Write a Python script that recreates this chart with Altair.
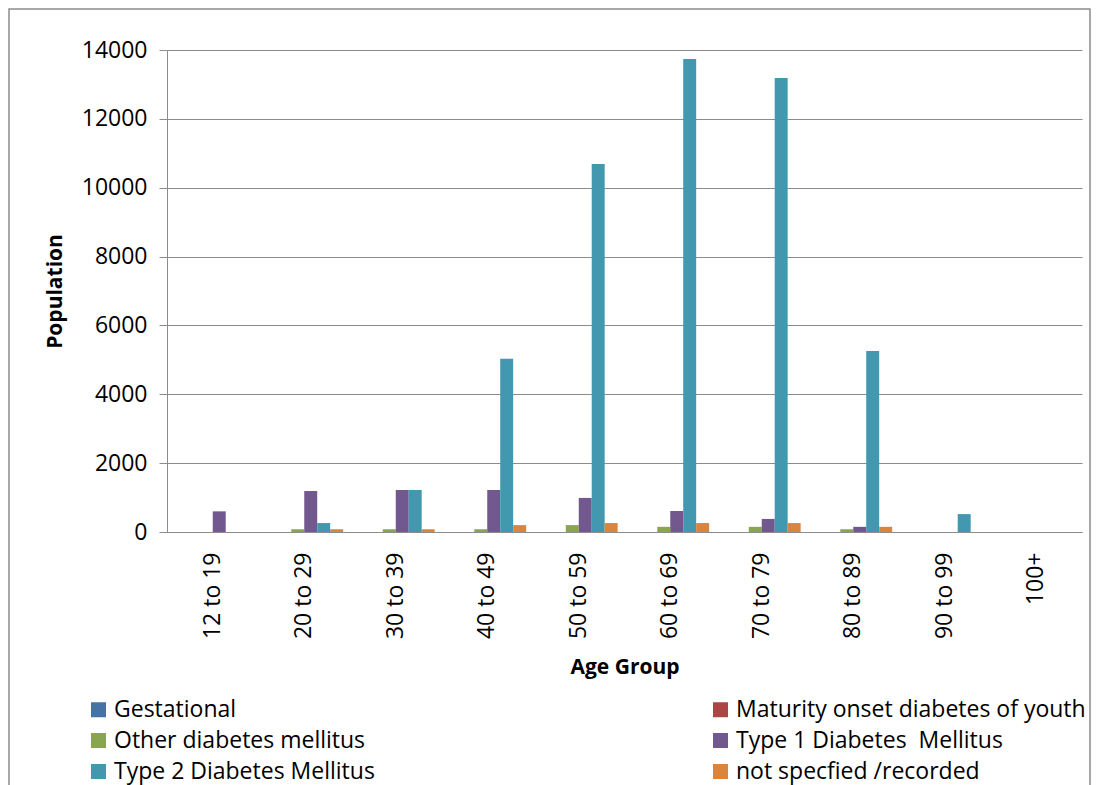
import altair as alt
import pandas as pd

age_groups = ["12 to 19", "20 to 29", "30 to 39", "40 to 49", "50 to 59",
              "60 to 69", "70 to 79", "80 to 89", "90 to 99", "100+"]
series = ["Gestational", "Maturity onset diabetes of youth", "Other diabetes mellitus",
          "Type 1 Diabetes\u00a0 Mellitus", "Type 2 Diabetes Mellitus", "not specfied /recorded"]
colors = ["#4572A7", "#AA4643", "#89A54E", "#71588F", "#4198AF", "#DB843D"]

gestational = [0, 0, 0, 0, 0, 0, 0, 0, 0, 0]
mody = [0, 0, 0, 0, 0, 0, 0, 0, 0, 0]
other = [0, 80, 80, 80, 200, 150, 150, 80, 0, 0]
type1 = [600, 1190, 1220, 1220, 990, 610, 380, 150, 0, 0]
type2 = [0, 260, 1220, 5030, 10690, 13740, 13190, 5260, 520, 0]
not_spec = [0, 80, 80, 200, 260, 260, 260, 150, 0, 0]

rows = []
for s, vals in zip(series, [gestational, mody, other, type1, type2, not_spec]):
    for g, v in zip(age_groups, vals):
        rows.append({"Age Group": g, "Series": s, "Population": v})
df = pd.DataFrame(rows)

FONT = "Open Sans"

bars = alt.Chart(df).mark_bar().encode(
    x=alt.X("Age Group:N", sort=age_groups,
            scale=alt.Scale(paddingInner=0.15, paddingOuter=0.075),
            axis=alt.Axis(title="Age Group", labelAngle=-90, ticks=False,
                          domainColor="#8c8c8c", labelPadding=20,
                          titlePadding=18)),
    xOffset=alt.XOffset("Series:N", sort=series,
                        scale=alt.Scale(domain=series, paddingInner=0, paddingOuter=0)),
    y=alt.Y("Population:Q",
            scale=alt.Scale(domain=[0, 14000], nice=False),
            axis=alt.Axis(title="Population", values=list(range(0, 14001, 2000)),
                          format="d",
                          tickSize=8, tickColor="#8c8c8c", domainColor="#8c8c8c",
                          gridColor="#8c8c8c", labelPadding=12, titlePadding=16)),
    color=alt.Color("Series:N", sort=series,
                    scale=alt.Scale(domain=series, range=colors),
                    legend=alt.Legend(title=None, orient="none", legendX=-80, legendY=648,
                                      direction="horizontal",
                                      columns=2, columnPadding=334, rowPadding=7,
                                      symbolType="square", symbolSize=225,
                                      symbolStrokeWidth=0, labelFontSize=23,
                                      labelFont=FONT, labelColor="#000000",
                                      labelLimit=600)),
)

frame = alt.Chart(pd.DataFrame({"k": [0]})).mark_rect(
    fill=None, stroke="#8c8c8c", strokeWidth=1.5
).encode(x=alt.value(-158), x2=alt.value(923), y=alt.value(-41), y2=alt.value(770))

chart = alt.layer(frame, bars).properties(
    width=915, height=482,
    padding={"left": 159, "top": 42, "right": 10, "bottom": 257},
    autosize=alt.AutoSizeParams(type="none"),
).configure_view(stroke=None).configure_axis(
    labelFont=FONT, titleFont=FONT, labelFontSize=23, titleFontSize=21,
    labelColor="#000000", titleColor="#000000", titleFontWeight="bold",
    labelFontWeight="normal"
).configure_axisX(grid=False)

chart.save("out.html", embed_options={"renderer": "svg", "actions": False})
